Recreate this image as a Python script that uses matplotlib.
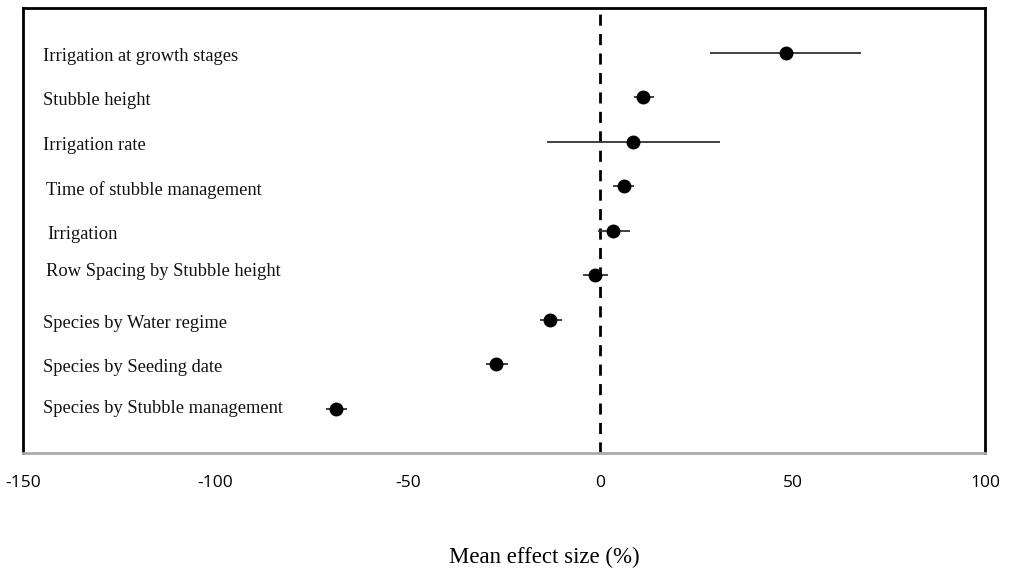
import matplotlib
matplotlib.use("Agg")
import matplotlib.pyplot as plt

categories = [
    "Irrigation at growth stages",
    "Stubble height",
    "Irrigation rate",
    "Time of stubble management",
    "Irrigation",
    "Row Spacing by Stubble height",
    "Species by Water regime",
    "Species by Seeding date",
    "Species by Stubble management",
]
means = [48.3, 11.2, 8.6, 6.2, 3.4, -1.3, -13.0, -27.0, -68.6]
lower = [28.6, 8.8, -13.8, 3.4, -0.5, -4.4, -15.6, -29.6, -71.2]
upper = [67.8, 14.0, 31.2, 8.8, 7.8, 2.1, -9.9, -23.9, -65.7]
xticks = [-150, -100, -50, 0, 50, 100]

# label layout (style only)
label_x = [-144.8, -144.8, -144.8, -144.0, -143.6, -144.0, -144.8, -144.8, -144.8]
label_dy = [0.08, 0.08, 0.08, 0.1, 0.08, -0.08, 0.08, 0.08, 0.0]

fig = plt.figure(figsize=(10.1, 5.75), dpi=100)
ax = fig.add_axes([23 / 1010, 1 - 453 / 575, 962 / 1010, 445 / 575])

ys = list(range(len(categories)))
xerr = [[m - l for m, l in zip(means, lower)], [u - m for m, u in zip(means, upper)]]
ax.errorbar(means, ys, xerr=xerr, fmt="o", color="black", ecolor="#333333",
            elinewidth=1.3, markersize=9, capsize=0, zorder=3)
ax.axvline(0, color="black", linestyle=(0, (4, 3)), linewidth=2, zorder=2)

for i, c in enumerate(categories):
    ax.text(label_x[i], i + label_dy[i], c, family="Liberation Serif", fontsize=13.3,
            va="center", ha="left", color="#111111")

ax.set_xlim(-150, 100)
ax.set_ylim(len(categories), -1)
ax.set_yticks([])
ax.set_xticks(xticks)
ax.set_xticklabels([str(t) for t in xticks], family="Open Sans", fontsize=12.5)
ax.tick_params(axis="x", length=0, pad=16)
for s in ["top", "left", "right"]:
    ax.spines[s].set_linewidth(2)
    ax.spines[s].set_color("black")
ax.spines["bottom"].set_color("#aaaaaa")
ax.spines["bottom"].set_linewidth(2)

fig.text(544 / 1010, 1 - 557 / 575, "Mean effect size (%)", family="Liberation Serif",
         fontsize=16.5, ha="center", va="center")

fig.savefig("out.png", dpi=100)
